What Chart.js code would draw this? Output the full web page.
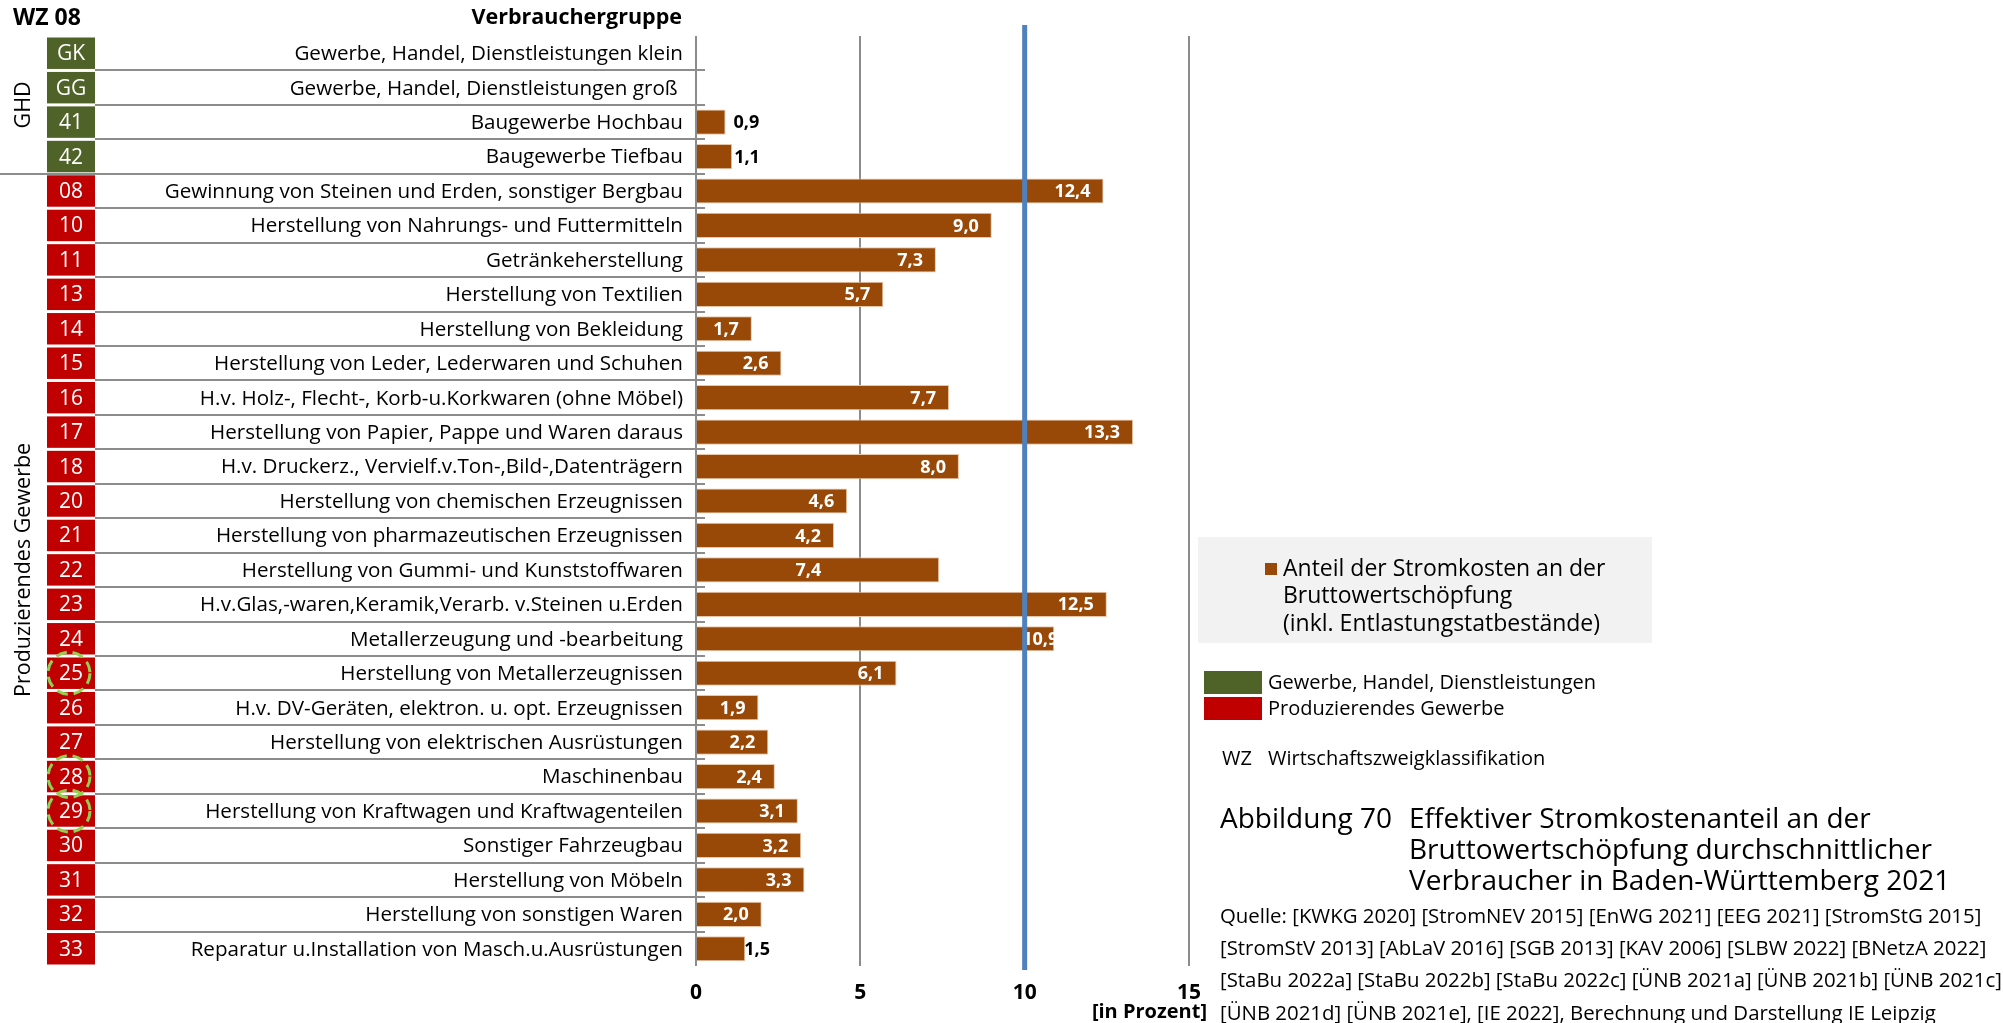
<!DOCTYPE html>
<html lang="de">
<head>
<meta charset="utf-8">
<title>Effektiver Stromkostenanteil an der Bruttowertschöpfung – Baden-Württemberg 2021</title>
<script src="https://cdn.jsdelivr.net/npm/chart.js@4.4.0/dist/chart.umd.min.js"></script>
<style>
  html, body { margin: 0; padding: 0; background: #ffffff; }
  canvas { display: block; }
</style>
</head>
<body>
<canvas id="chart" width="2003" height="1023"></canvas>
<script>
// WZ 2008 codes of the consumer groups, top to bottom
const codes = ['GK', 'GG', '41', '42', '08', '10', '11', '13', '14', '15', '16', '17', '18',
  '20', '21', '22', '23', '24', '25', '26', '27', '28', '29', '30', '31', '32', '33'];

// sector of each row: GHD = Gewerbe, Handel, Dienstleistungen; PG = Produzierendes Gewerbe
const sectors = ['GHD', 'GHD', 'GHD', 'GHD', 'PG', 'PG', 'PG', 'PG', 'PG', 'PG', 'PG', 'PG', 'PG',
  'PG', 'PG', 'PG', 'PG', 'PG', 'PG', 'PG', 'PG', 'PG', 'PG', 'PG', 'PG', 'PG', 'PG'];

// consumer groups (Verbrauchergruppe)
const categories = [
  'Gewerbe, Handel, Dienstleistungen klein',
  'Gewerbe, Handel, Dienstleistungen groß ',
  'Baugewerbe Hochbau',
  'Baugewerbe Tiefbau',
  'Gewinnung von Steinen und Erden, sonstiger Bergbau',
  'Herstellung von Nahrungs- und Futtermitteln',
  'Getränkeherstellung',
  'Herstellung von Textilien',
  'Herstellung von Bekleidung',
  'Herstellung von Leder, Lederwaren und Schuhen',
  'H.v. Holz-, Flecht-, Korb-u.Korkwaren (ohne Möbel)',
  'Herstellung von Papier, Pappe und Waren daraus',
  'H.v. Druckerz., Vervielf.v.Ton-,Bild-,Datenträgern',
  'Herstellung von chemischen Erzeugnissen',
  'Herstellung von pharmazeutischen Erzeugnissen',
  'Herstellung von Gummi- und Kunststoffwaren',
  'H.v.Glas,-waren,Keramik,Verarb. v.Steinen u.Erden',
  'Metallerzeugung und -bearbeitung',
  'Herstellung von Metallerzeugnissen',
  'H.v. DV-Geräten, elektron. u. opt. Erzeugnissen',
  'Herstellung von elektrischen Ausrüstungen',
  'Maschinenbau',
  'Herstellung von Kraftwagen und Kraftwagenteilen',
  'Sonstiger Fahrzeugbau',
  'Herstellung von Möbeln',
  'Herstellung von sonstigen Waren',
  'Reparatur u.Installation von Masch.u.Ausrüstungen'
];

// Anteil der Stromkosten an der Bruttowertschöpfung in Prozent (no value for GK / GG)
const shares = [null, null, 0.9, 1.1, 12.4, 9.0, 7.3, 5.7, 1.7, 2.6, 7.7, 13.3, 8.0,
  4.6, 4.2, 7.4, 12.5, 10.9, 6.1, 1.9, 2.2, 2.4, 3.1, 3.2, 3.3, 2.0, 1.5];

// x axis
const xTicks = [0, 5, 10, 15];
const referenceValue = 10;

// codes marked with a dashed ring
const markedCodes = ['25', '28', '29'];

// legend / caption texts
const seriesName = ['Anteil der Stromkosten an der', 'Bruttowertschöpfung', '(inkl. Entlastungstatbestände)'];
const sectorNames = { GHD: 'Gewerbe, Handel, Dienstleistungen', PG: 'Produzierendes Gewerbe' };
const sectorAxisNames = { GHD: 'GHD', PG: 'Produzierendes Gewerbe' };
const captionNumber = 'Abbildung 70';
const captionTitle = ['Effektiver Stromkostenanteil an der', 'Bruttowertschöpfung durchschnittlicher', 'Verbraucher in Baden-Württemberg 2021'];
const sources = [
  'Quelle: [KWKG 2020] [StromNEV 2015] [EnWG 2021] [EEG 2021] [StromStG 2015]',
  '[StromStV 2013] [AbLaV 2016] [SGB 2013] [KAV 2006] [SLBW 2022] [BNetzA 2022]',
  '[StaBu 2022a] [StaBu 2022b] [StaBu 2022c] [ÜNB 2021a] [ÜNB 2021b] [ÜNB 2021c]',
  '[ÜNB 2021d] [ÜNB 2021e], [IE 2022], Berechnung und Darstellung IE Leipzig'
];

// ---- styling ----
const FONT = '"Open Sans", "Noto Sans", "DejaVu Sans", sans-serif';
const COLORS = {
  bar: '#984807',
  barEdge: '#E9C6A6',
  GHD: '#4F6228',
  PG: '#C00000',
  grid: '#8C8C8C',
  reference: '#4F81BD',
  ring: '#92D050',
  legendBg: '#F2F2F2',
  text: '#000000'
};
// value label placement: gap (px) after the bar end for labels set outside,
// extra leftward shift (px) for a few inside labels
const labelOutsideGap = { '41': 8, '42': 2, '33': -1 };
const labelInsideShift = { '22': 105, '24': -17 };

function fmt(v) { return v.toFixed(1).replace('.', ','); }

const decorations = {
  id: 'decorations',
  beforeDatasetsDraw(chart) {
    const { ctx } = chart;
    const y = chart.scales.y;
    const pitch = y.getPixelForValue(1) - y.getPixelForValue(0);
    ctx.save();
    // row separators
    ctx.strokeStyle = COLORS.grid;
    ctx.lineWidth = 2;
    for (let i = 1; i < codes.length; i++) {
      const yy = Math.round(y.getPixelForValue(i) - pitch / 2);
      const x0 = sectors[i] !== sectors[i - 1] ? 0 : 95;
      ctx.beginPath();
      ctx.moveTo(x0, yy);
      ctx.lineTo(705, yy);
      ctx.stroke();
    }
    ctx.restore();
  },
  afterDatasetsDraw(chart) {
    const { ctx } = chart;
    const x = chart.scales.x;
    const y = chart.scales.y;
    const pitch = y.getPixelForValue(1) - y.getPixelForValue(0);
    ctx.save();

    // header
    ctx.fillStyle = COLORS.text;
    ctx.textBaseline = 'middle';
    ctx.font = `bold 23px ${FONT}`;
    ctx.textAlign = 'left';
    ctx.fillText('WZ 08', 13, 18);
    ctx.font = `bold 21.5px ${FONT}`;
    ctx.textAlign = 'right';
    ctx.fillText('Verbrauchergruppe', 682, 18);

    // code boxes, row labels
    codes.forEach((code, i) => {
      const cy = y.getPixelForValue(i);
      const top = cy - pitch / 2 + 1.5;
      const h = pitch - 3;
      ctx.fillStyle = COLORS[sectors[i]];
      ctx.fillRect(47, top, 48, h);
      ctx.fillStyle = '#ffffff';
      ctx.font = `21px ${FONT}`;
      ctx.textAlign = 'center';
      ctx.fillText(code, 71, cy + 1);
      ctx.fillStyle = COLORS.text;
      ctx.textAlign = 'right';
      ctx.font = `20.6px ${FONT}`;
      ctx.fillText(categories[i], 683, cy + 1);
    });

    // dashed rings
    ctx.strokeStyle = COLORS.ring;
    ctx.lineWidth = 3;
    ctx.setLineDash([11, 6]);
    markedCodes.forEach(code => {
      const i = codes.indexOf(code);
      const cy = y.getPixelForValue(i);
      ctx.beginPath();
      ctx.arc(69, cy, 21, 0, Math.PI * 2);
      ctx.stroke();
    });
    ctx.setLineDash([]);

    // sector names (rotated)
    ctx.fillStyle = COLORS.text;
    ctx.font = `21.5px ${FONT}`;
    ctx.textAlign = 'center';
    ['GHD', 'PG'].forEach(s => {
      const idx = sectors.map((v, i) => v === s ? i : -1).filter(i => i >= 0);
      const y0 = y.getPixelForValue(idx[0]) - pitch / 2;
      const y1 = y.getPixelForValue(idx[idx.length - 1]) + pitch / 2;
      ctx.save();
      ctx.translate(24, (y0 + y1) / 2);
      ctx.rotate(-Math.PI / 2);
      ctx.fillText(sectorAxisNames[s], 0, 0);
      ctx.restore();
    });

    // value labels
    const meta = chart.getDatasetMeta(0);
    ctx.font = `bold 18px ${FONT}`;
    meta.data.forEach((bar, i) => {
      const v = shares[i];
      if (v === null) return;
      const code = codes[i];
      const text = fmt(v);
      const cy = bar.y + 1;
      if (code in labelOutsideGap) {
        ctx.fillStyle = COLORS.text;
        ctx.textAlign = 'left';
        ctx.fillText(text, bar.x + labelOutsideGap[code], cy);
      } else {
        ctx.fillStyle = '#ffffff';
        ctx.textAlign = 'right';
        ctx.fillText(text, bar.x - 13 - (labelInsideShift[code] || 0), cy);
      }
    });

    // reference line
    const rx = x.getPixelForValue(referenceValue);
    ctx.strokeStyle = COLORS.reference;
    ctx.lineWidth = 5;
    ctx.beginPath();
    ctx.moveTo(rx, 25);
    ctx.lineTo(rx, 970);
    ctx.stroke();

    // axis unit
    ctx.fillStyle = COLORS.text;
    ctx.font = `bold 20px ${FONT}`;
    ctx.textAlign = 'right';
    ctx.fillText('[in Prozent]', 1207, 1012);

    // series legend
    ctx.fillStyle = COLORS.legendBg;
    ctx.fillRect(1198, 537, 454, 106);
    ctx.fillStyle = COLORS.bar;
    ctx.fillRect(1265, 563, 12, 12);
    ctx.fillStyle = COLORS.text;
    ctx.font = `23px ${FONT}`;
    ctx.textAlign = 'left';
    seriesName.forEach((t, k) => ctx.fillText(t, 1283, 569 + k * 27.5));

    // sector legend
    ctx.fillStyle = COLORS.GHD;
    ctx.fillRect(1204, 671, 58, 23);
    ctx.fillStyle = COLORS.PG;
    ctx.fillRect(1204, 697, 58, 23);
    ctx.fillStyle = COLORS.text;
    ctx.font = `20px ${FONT}`;
    ctx.fillText(sectorNames.GHD, 1268, 683);
    ctx.fillText(sectorNames.PG, 1268, 709);
    ctx.fillText('WZ', 1222, 759);
    ctx.fillText('Wirtschaftszweigklassifikation', 1268, 759);

    // caption
    ctx.font = `28px ${FONT}`;
    ctx.fillText(captionNumber, 1220, 820);
    captionTitle.forEach((t, k) => ctx.fillText(t, 1409, 820 + k * 31));
    ctx.font = `20.4px ${FONT}`;
    sources.forEach((t, k) => ctx.fillText(t, 1220, 917 + k * 32.3));

    ctx.restore();
  }
};

new Chart(document.getElementById('chart'), {
  type: 'bar',
  data: {
    labels: categories,
    datasets: [{
      label: seriesName.join(' '),
      data: shares,
      backgroundColor: COLORS.bar,
      borderColor: COLORS.barEdge,
      borderWidth: 1,
      borderSkipped: 'start',
      barPercentage: 0.73,
      categoryPercentage: 1
    }]
  },
  options: {
    indexAxis: 'y',
    responsive: false,
    devicePixelRatio: 1,
    animation: false,
    layout: { padding: { left: 696, right: 814, top: 36, bottom: 17 } },
    plugins: { legend: { display: false }, tooltip: { enabled: false } },
    scales: {
      x: {
        type: 'linear',
        min: 0,
        max: 15,
        afterBuildTicks: s => { s.ticks = xTicks.map(v => ({ value: v })); },
        afterFit: s => { s.height = 40; },
        border: { display: false },
        grid: {
          drawTicks: false,
          lineWidth: 2,
          color: c => (c.tick && c.tick.value === referenceValue) ? 'rgba(0,0,0,0)' : COLORS.grid
        },
        ticks: {
          padding: 14,
          color: COLORS.text,
          font: { family: FONT, size: 21, weight: 'bold' },
          callback: v => String(v)
        }
      },
      y: {
        type: 'category',
        display: false,
        offset: true,
        grid: { display: false }
      }
    }
  },
  plugins: [decorations]
});
</script>
</body>
</html>
